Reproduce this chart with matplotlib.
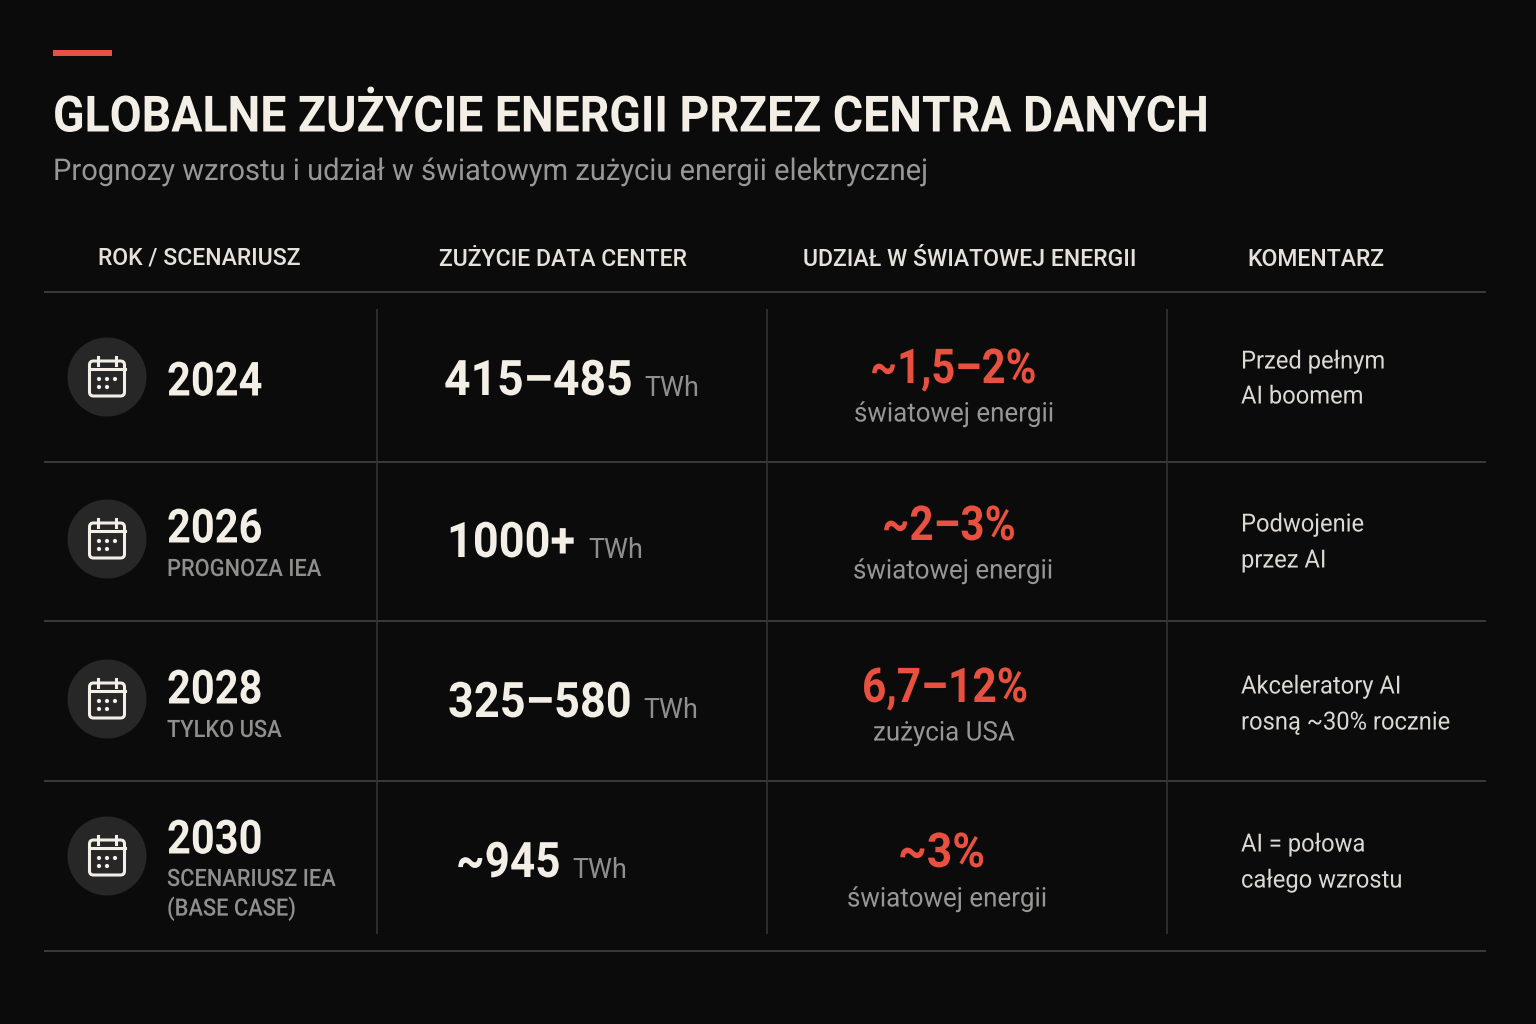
import matplotlib
matplotlib.use("Agg")
import matplotlib.pyplot as plt
from matplotlib.patches import Circle, FancyBboxPatch, Rectangle
from matplotlib.patheffects import AbstractPathEffect
from matplotlib.transforms import Affine2D

title = "GLOBALNE ZUŻYCIE ENERGII PRZEZ CENTRA DANYCH"
subtitle = "Prognozy wzrostu i udział w światowym zużyciu energii elektrycznej"
headers = ["ROK / SCENARIUSZ", "ZUŻYCIE DATA CENTER", "UDZIAŁ W ŚWIATOWEJ ENERGII", "KOMENTARZ"]
years = ["2024", "2026", "2028", "2030"]
year_notes = [[], ["PROGNOZA IEA"], ["TYLKO USA"], ["SCENARIUSZ IEA", "(BASE CASE)"]]
usage = ["415–485", "1000+", "325–580", "~945"]
unit = "TWh"
shares = ["~1,5–2%", "~2–3%", "6,7–12%", "~3%"]
share_notes = ["światowej energii", "światowej energii", "zużycia USA", "światowej energii"]
comments = [["Przed pełnym", "AI boomem"], ["Podwojenie", "przez AI"],
            ["Akceleratory AI", "rosną ~30% rocznie"], ["AI = połowa", "całego wzrostu"]]

BG, CREAM, GREY, RED = "#0b0b0c", "#f3eee6", "#8f8f8d", "#e8503f"
LINE, VLINE = "#3a3b3b", "#2f3030"
FONT = "Roboto"


class Squeeze(AbstractPathEffect):
    """Narrow the glyphs horizontally, the reference face is semi-condensed."""
    def __init__(self, sx):
        super().__init__()
        self.sx = sx

    def draw_path(self, renderer, gc, tpath, affine, rgbFace=None):
        renderer.draw_path(gc, tpath, Affine2D().scale(self.sx, 1) + affine, rgbFace)


fig = plt.figure(figsize=(15.36, 10.24), dpi=100, facecolor=BG)
ax = fig.add_axes([0, 0, 1, 1])
ax.set_xlim(0, 1536); ax.set_ylim(1024, 0); ax.axis("off")


def T(x, y, s, px, color=CREAM, weight="normal", ha="left", sx=1.0):
    t = ax.text(x, y, s, fontsize=px * 0.72, color=color, fontweight=weight,
                family=FONT, ha=ha, va="center_baseline")
    if sx != 1.0:
        t.set_path_effects([Squeeze(sx)])
    return t


ax.add_patch(Rectangle((53, 50), 59, 5.5, color=RED, lw=0))
T(53, 113, title, 50, weight="bold", sx=0.927)
T(53, 169, subtitle, 30, color="#979795", sx=0.97)

for x, y, h in zip([199, 563, 970, 1316], [256, 257, 257, 257], headers):
    T(x, y, h, 23, color="#e6e2db", weight="medium", ha="center")

for y in [292, 462, 621, 781, 951]:
    ax.plot([44, 1486], [y, y], color=LINE, lw=1.4, solid_capstyle="butt")
for x in [377, 767, 1167]:
    for y0, y1 in [(310, 461), (463, 620), (622, 780), (782, 933)]:
        ax.plot([x, x], [y0, y1], color=VLINE, lw=1.3)


def calendar(cx, cy):
    ax.add_patch(Circle((cx, cy), 39.5, color="#272727", lw=0))
    ax.add_patch(FancyBboxPatch((cx - 17.5, cy - 16), 35, 35, boxstyle="round,pad=0,rounding_size=4",
                                fc="none", ec=CREAM, lw=2.2))
    ax.plot([cx - 17.5, cx + 17.5], [cy - 8, cy - 8], color=CREAM, lw=2.2)
    for dx in (-9, 9):
        ax.plot([cx + dx, cx + dx], [cy - 20, cy - 12], color=CREAM, lw=2.2)
    for dx, dy in [(-8, 2), (0, 2), (8, 2), (-8, 10), (0, 10)]:
        ax.add_patch(Circle((cx + dx, cy + dy), 2.1, color=CREAM, lw=0))


icon_y = [377, 539, 699, 856]
year_y = [378, 525, 686, 836]
note_y = [[], [567], [728], [877, 906]]
usage_x = [444, 447, 448, 456]
usage_y = [377, 539, 699, 859]
usage_sx = [0.945, 0.92, 0.92, 0.90]
unit_x = [644, 588, 643, 572]
unit_y = [385, 547, 707, 867]
share_x = [870, 882, 862, 898]
share_y = [365, 522, 684, 849]
share_sx = [0.87, 0.88, 0.885, 0.925]
snote_x = [854, 853, 873, 847]
snote_y = [411, 568, 730, 896]
comment_y = [[359, 394], [522, 558], [684, 720], [842, 878]]

for i in range(4):
    calendar(107, icon_y[i])
    T(167, year_y[i], years[i], 47, weight="bold", sx=0.885)
    for y, s in zip(note_y[i], year_notes[i]):
        T(167, y, s, 24, color=GREY, weight="medium", sx=0.91)
    T(usage_x[i], usage_y[i], usage[i], 49, weight="bold", sx=usage_sx[i])
    T(unit_x[i], unit_y[i], unit, 27, color=GREY)
    T(share_x[i], share_y[i], shares[i], 48, color=RED, weight="bold", sx=share_sx[i])
    T(snote_x[i], snote_y[i], share_notes[i], 27, color="#979795", sx=0.96)
    for y, s in zip(comment_y[i], comments[i]):
        T(1241, y, s, 25, color="#dcd9d3", sx=0.95)

fig.savefig("out.png", dpi=100, facecolor=BG)
